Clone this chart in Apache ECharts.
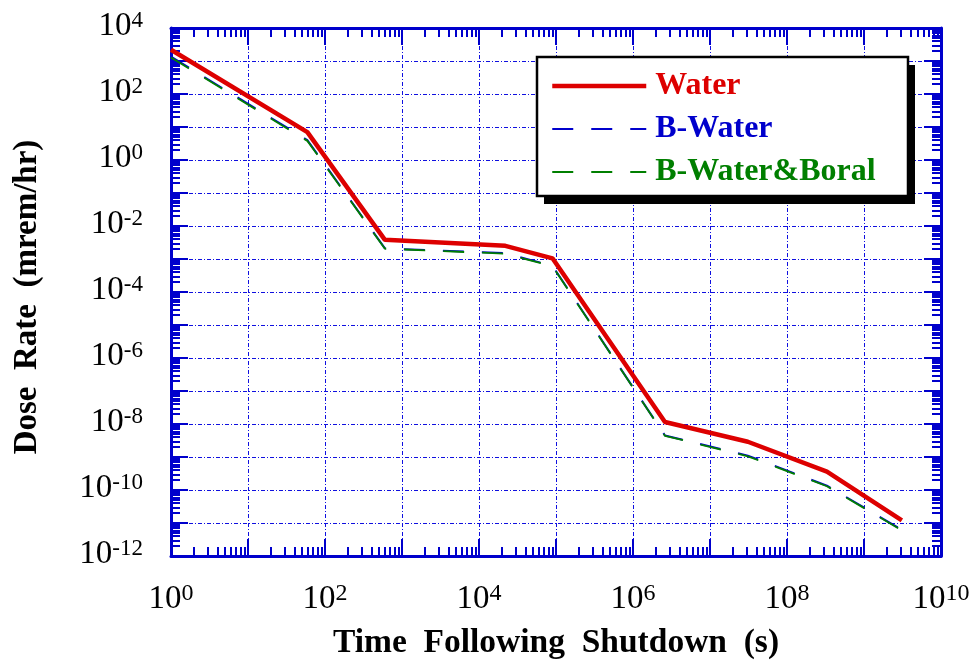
<!DOCTYPE html>
<html><head><meta charset="utf-8">
<script src="https://cdn.jsdelivr.net/npm/echarts@6/dist/echarts.min.js"></script>
<style>html,body{margin:0;padding:0;background:#fff}#c{width:975px;height:665px}</style>
</head><body><div id="c"></div>
<script>
// ---- data ----
const timeS = [1, 59, 600, 2.2e4, 9e4, 2.6e6, 3.1e7, 3.3e8, 3.1e9];
const water = [2200, 7.0, 0.0038, 0.0025, 0.00105, 1.15e-8, 2.9e-9, 3.6e-10, 1.2e-11];
const bWater = [1350, 4.0, 0.0021, 0.0015, 0.00062, 4.5e-9, 1.1e-9, 1.35e-10, 6.2e-12];
const bWaterBoral = [1280, 3.8, 0.00205, 0.00145, 0.0006, 4.4e-9, 1.05e-9, 1.3e-10, 6.0e-12];
const seriesNames = ['Water', 'B-Water', 'B-Water&Boral'];
const xDecades = [0, 10];     // 10^0 .. 10^10
const yDecades = [-12, 4];    // 10^-12 .. 10^4
const xTitle = 'Time  Following  Shutdown  (s)';
const yTitle = 'Dose  Rate  (mrem/hr)';

const SERIF = 'Liberation Serif';
const AXC = '#0000CC';
const RED = '#DD0000', BLUE = '#0000CC', GREEN = '#007F00';

function pairs(xs, ys) { return xs.map((x, i) => [x, ys[i]]); }
function minorVals(a, b) {
  const v = [];
  for (let k = a; k < b; k++) for (let m = 2; m <= 9; m++) v.push(k + Math.log10(m));
  return v;
}
function powLabel(v) {
  const e = Math.round(v);
  if (e % 2 !== 0) return '';
  return '{b|10}{s|' + e + '}';
}

const gridLine = { show: true, lineStyle: { color: '#1010E0', width: 1, type: [4, 2, 1, 2] } };
const axLine = { show: true, onZero: false, lineStyle: { color: AXC, width: 3 } };
const noLine = { show: false, onZero: false };
const majTick = { show: true, inside: true, length: 17, lineStyle: { color: AXC, width: 2 } };
function minTick(vals) { return { show: true, inside: true, length: 9, customValues: vals, lineStyle: { color: AXC, width: 2 } }; }

const xRich = {
  b: { fontFamily: SERIF, fontSize: 33, color: '#000', lineHeight: 34, verticalAlign: 'bottom' },
  s: { fontFamily: SERIF, fontSize: 24, color: '#000', lineHeight: 24, verticalAlign: 'top' }
};
const yRich = {
  b: { fontFamily: SERIF, fontSize: 33, color: '#000', lineHeight: 34, verticalAlign: 'bottom' },
  s: { fontFamily: SERIF, fontSize: 23, color: '#000', lineHeight: 16, verticalAlign: 'top' }
};

function linAxis(pos, ext, extra) {
  return Object.assign({
    type: 'value', position: pos, min: ext[0], max: ext[1], interval: 1,
    axisLine: noLine, axisTick: { show: false }, axisLabel: { show: false }, splitLine: { show: false }
  }, extra);
}

const xAxes = [
  { type: 'log', logBase: 10, min: Math.pow(10, xDecades[0]), max: Math.pow(10, xDecades[1]), show: false,
    axisLine: { onZero: false } },
  linAxis('bottom', xDecades, { axisLine: axLine, axisTick: majTick, splitLine: gridLine,
    axisLabel: { show: true, margin: 26, formatter: powLabel, rich: xRich } }),
  linAxis('bottom', xDecades, { axisTick: minTick(minorVals(xDecades[0], xDecades[1])) }),
  linAxis('top', xDecades, { axisLine: axLine, axisTick: majTick }),
  linAxis('top', xDecades, { axisTick: minTick(minorVals(xDecades[0], xDecades[1])) })
];
const yAxes = [
  { type: 'log', logBase: 10, min: Math.pow(10, yDecades[0]), max: Math.pow(10, yDecades[1]), show: false,
    axisLine: { onZero: false } },
  linAxis('left', yDecades, { axisLine: axLine, axisTick: majTick, splitLine: gridLine,
    axisLabel: { show: true, margin: 28, formatter: powLabel, rich: yRich, padding: [0, 0, 4, 0] } }),
  linAxis('left', yDecades, { axisTick: minTick(minorVals(yDecades[0], yDecades[1])) }),
  linAxis('right', yDecades, { axisLine: axLine, axisTick: majTick }),
  linAxis('right', yDecades, { axisTick: minTick(minorVals(yDecades[0], yDecades[1])) })
];

// legend frame (white box with black border and a solid offset shadow)
const LBOX = { x: 537, y: 57, width: 371, height: 139 };
const LSHADOW = { dx: 7, dy: 8 };

const chart = echarts.init(document.getElementById('c'), null, { renderer: 'canvas' });
chart.setOption({
  animation: false,
  backgroundColor: '#fff',
  grid: { left: 171, top: 28, width: 770, height: 528, containLabel: false },
  xAxis: xAxes,
  yAxis: yAxes,
  legend: {
    orient: 'vertical', left: 536, top: 56, z: 20,
    padding: [14, 40, 11, 14], itemGap: 11, itemWidth: 94, itemHeight: 14,
    backgroundColor: 'transparent', borderWidth: 0,
    itemStyle: { color: 'rgba(0,0,0,0)', borderWidth: 0, opacity: 0 },
    textStyle: { fontFamily: SERIF, fontWeight: 'bold', fontSize: 32, lineHeight: 32, padding: [0, 0, 0, 4] },
    data: [
      { name: seriesNames[0], textStyle: { color: RED }, lineStyle: { width: 4.5 } },
      { name: seriesNames[1], textStyle: { color: BLUE }, lineStyle: { width: 2 } },
      { name: seriesNames[2], textStyle: { color: GREEN }, lineStyle: { width: 2 } }
    ]
  },
  series: [
    { name: seriesNames[1], type: 'line', xAxisIndex: 0, yAxisIndex: 0, data: pairs(timeS, bWater),
      symbol: 'none', z: 3, color: BLUE, lineStyle: { color: BLUE, width: 2, type: [21, 18] } },
    { name: seriesNames[2], type: 'line', xAxisIndex: 0, yAxisIndex: 0, data: pairs(timeS, bWaterBoral),
      symbol: 'none', z: 4, color: GREEN, lineStyle: { color: GREEN, width: 1.8, type: [21, 18] } },
    { name: seriesNames[0], type: 'line', xAxisIndex: 0, yAxisIndex: 0, data: pairs(timeS, water),
      symbol: 'none', z: 5, color: RED, lineStyle: { color: RED, width: 4.5 } }
  ],
  graphic: [
    { type: 'rect', z: 10, silent: true,
      shape: { x: LBOX.x + LSHADOW.dx, y: LBOX.y + LSHADOW.dy, width: LBOX.width, height: LBOX.height },
      style: { fill: '#000' } },
    { type: 'rect', z: 11, silent: true,
      shape: { x: LBOX.x, y: LBOX.y, width: LBOX.width, height: LBOX.height },
      style: { fill: '#fff', stroke: '#000', lineWidth: 2.5 } },
    { type: 'text', x: 556, y: 643, style: { text: xTitle, fontFamily: SERIF, fontWeight: 'bold', fontSize: 33.5,
      fill: '#000', textAlign: 'center', textVerticalAlign: 'middle' } },
    { type: 'text', x: 27, y: 297, rotation: Math.PI / 2, style: { text: yTitle, fontFamily: SERIF, fontWeight: 'bold', fontSize: 33,
      fill: '#000', textAlign: 'center', textVerticalAlign: 'middle' } }
  ]
});
</script></body></html>
